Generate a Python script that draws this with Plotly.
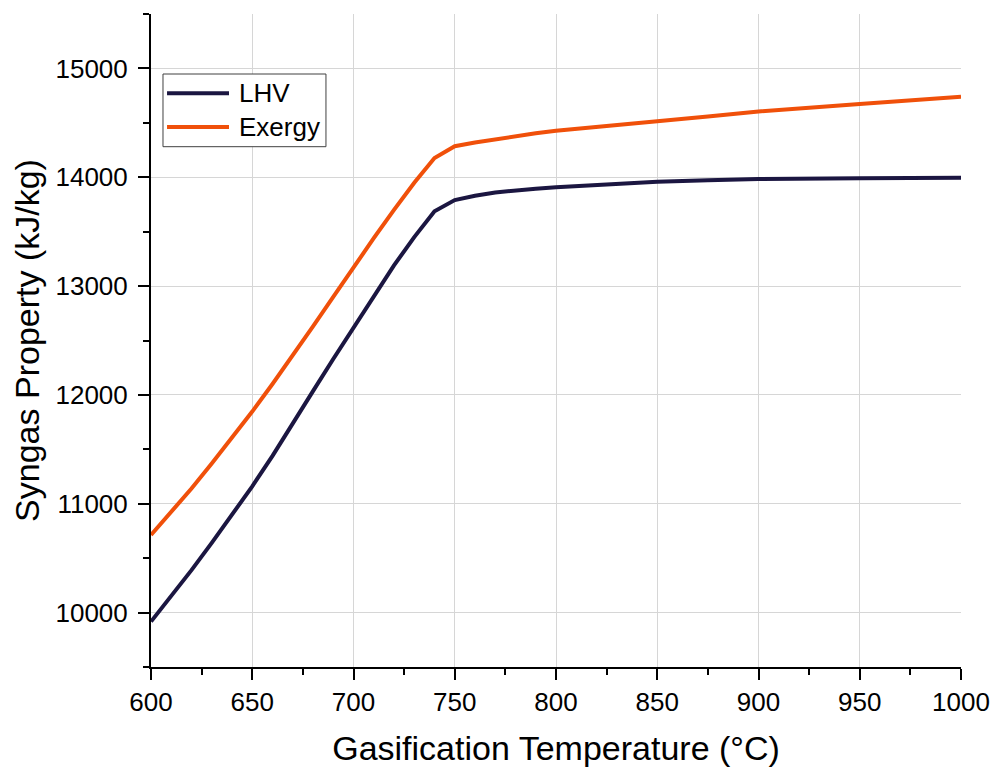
import plotly.graph_objects as go

temp = [600, 610, 620, 630, 640, 650, 660, 670, 680, 690, 700, 710, 720, 730, 740,
        750, 760, 770, 780, 790, 800, 825, 850, 875, 900, 950, 1000]
lhv = [9917, 10150, 10390, 10640, 10900, 11160, 11440, 11730, 12035, 12330, 12620,
       12910, 13190, 13450, 13688, 13790, 13830, 13860, 13880, 13895, 13907, 13937,
       13958, 13972, 13983, 13991, 13996]
exergy = [10713, 10920, 11140, 11370, 11605, 11847, 12100, 12360, 12630, 12900, 13177,
          13440, 13700, 13950, 14177, 14285, 14320, 14350, 14378, 14404, 14428, 14475,
          14515, 14558, 14604, 14674, 14739]

series_names = ["LHV", "Exergy"]
series_colors = ["#1b1641", "#f0500a"]

x_ticks = [600, 650, 700, 750, 800, 850, 900, 950, 1000]
y_ticks = [10000, 11000, 12000, 13000, 14000, 15000]

FONT = "Arial, Liberation Sans, sans-serif"

fig = go.Figure()
for name, ys, col in zip(series_names, [lhv, exergy], series_colors):
    fig.add_trace(go.Scatter(x=temp, y=ys, mode="lines", name=name,
                             line=dict(color=col, width=4), showlegend=False))

# custom legend (box, line samples, labels) in paper coordinates
fig.add_shape(type="rect", xref="paper", yref="paper",
              x0=0.0148, x1=0.216, y0=0.7968, y1=0.9081,
              line=dict(color="#404040", width=1), fillcolor="white", layer="above")
row_y = [0.8786, 0.8270]
for name, col, ry in zip(series_names, series_colors, row_y):
    fig.add_shape(type="line", xref="paper", yref="paper",
                  x0=0.0198, x1=0.0963, y0=ry, y1=ry,
                  line=dict(color=col, width=4), layer="above")
    fig.add_annotation(xref="paper", yref="paper", x=0.1062, y=ry,
                       text=name, showarrow=False, xanchor="left", yanchor="middle",
                       font=dict(size=26, family=FONT, color="black"))

fig.update_layout(
    width=995, height=769,
    margin=dict(l=151, r=34, t=14, b=102),
    paper_bgcolor="white", plot_bgcolor="white",
    font=dict(family=FONT, color="black"),
    showlegend=False,
    xaxis=dict(
        range=[600, 1000], tickvals=x_ticks, tickformat="d", automargin=False,
        showline=True, linecolor="black", linewidth=2,
        ticks="outside", ticklen=11, tickwidth=2, tickcolor="black",
        tickfont=dict(size=26, family=FONT), showgrid=True, gridcolor="#d6d6d6", gridwidth=1,
        zeroline=False,
        minor=dict(dtick=25, ticks="outside", ticklen=6, tickwidth=2,
                   tickcolor="black", showgrid=False),
        title=dict(text="Gasification Temperature (°C)", font=dict(size=34, family=FONT), standoff=20),
    ),
    yaxis=dict(
        range=[9500, 15500], tickvals=y_ticks, tickformat="d", automargin=False,
        showline=True, linecolor="black", linewidth=2,
        ticks="outside", ticklen=11, tickwidth=2, tickcolor="black",
        tickfont=dict(size=26, family=FONT), showgrid=True, gridcolor="#d6d6d6", gridwidth=1,
        zeroline=False, ticklabelstandoff=5,
        minor=dict(dtick=500, tick0=9500, ticks="outside", ticklen=6, tickwidth=2,
                   tickcolor="black", showgrid=False),
        title=dict(text="Syngas Property (kJ/kg)", font=dict(size=34, family=FONT), standoff=6),
    ),
)

fig.write_html("out.html")
